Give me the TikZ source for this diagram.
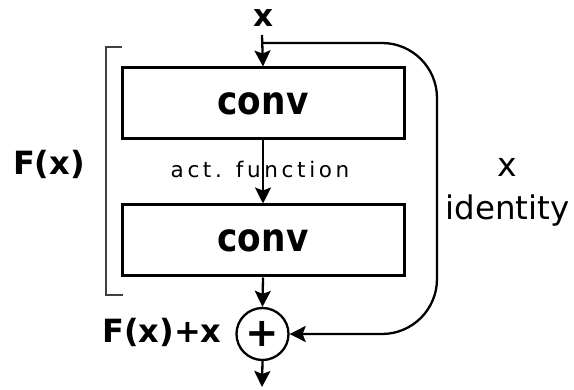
\documentclass[tikz,border=0pt]{standalone}
\usepackage{fontspec}
\setmainfont{DejaVu Sans}
\newfontfamily\actfont[LetterSpace=17]{DejaVu Sans}
\usetikzlibrary{arrows.meta}
\tikzset{
  conn/.style={line width=2.3pt,-{Stealth[length=16pt,width=16pt,inset=3pt]}},
  convbox/.style={draw,line width=3pt,minimum width=282pt,minimum height=71pt,inner sep=0pt,
    font=\fontsize{39}{39}\selectfont\bfseries},
  sumnode/.style={draw,circle,line width=2.3pt,minimum size=52pt,inner sep=0pt},
  lbl/.style={inner sep=0pt,anchor=base}
}
\begin{document}
\begin{tikzpicture}[x=1pt,y=-1pt]
\useasboundingbox (0,0) rectangle (574,390);
\node[lbl,font=\fontsize{31}{31}\selectfont\bfseries] (xin) at (263,27) {x};
\coordinate (in) at (262,35);
\coordinate (skip) at (262,43);
\node[convbox] (c1) at (263,103.5) {\scalebox{0.88}[1]{conv}};
\node[convbox] (c2) at (263,240.5) {\scalebox{0.88}[1]{conv}};
\node[sumnode] (sum) at (262.5,334) {};
\node[inner sep=0pt,font=\fontsize{40}{40}\selectfont\bfseries] (plus) at (262.5,334) {+};
\coordinate (out) at (262,387);
\coordinate (rt) at (437,43);
\coordinate (rb) at (437,334);
\node[lbl,font=\fontsize{21.5}{21.5}\actfont] (act) at (260,178) {act. function};
\node[lbl,font=\fontsize{32}{32}\selectfont\bfseries] (fx) at (49,175) {F(x)};
\node[lbl,font=\fontsize{32}{32}\selectfont\bfseries] (fxx) at (162,343) {F(x)+x};
\node[lbl,font=\fontsize{33}{33}\selectfont] (idx) at (507.5,177) {x};
\node[lbl,font=\fontsize{32.5}{32.5}\selectfont] (idt) at (507.5,220) {identity};
\draw[line width=1.5pt,black!75] (122,47) -- (106,47) -- (106,295) -- (123,295);
\draw[conn] (in) -- (c1.north);
\draw[conn] (c1.south) -- (c2.north);
\draw[conn] (c2.south) -- (sum.north);
\draw[conn] (sum.south) -- (out);
\draw[conn,rounded corners=55pt] (skip) -- (rt) -- (rb) -- (sum.east);
\end{tikzpicture}
\end{document}
